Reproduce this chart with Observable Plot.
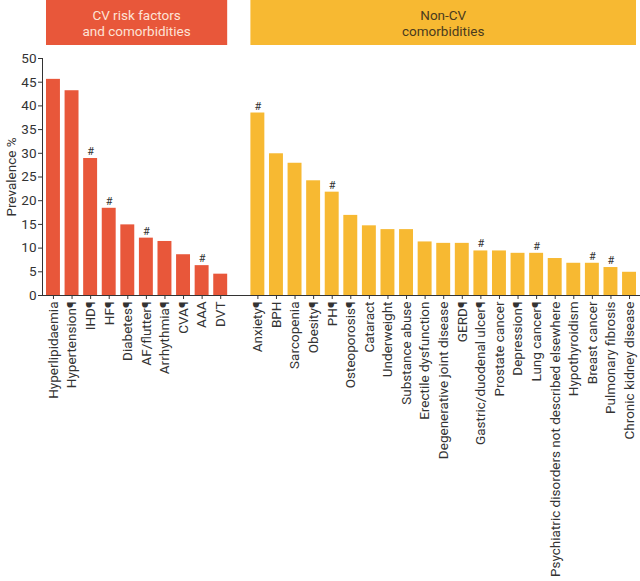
<!DOCTYPE html>
<html>
<head>
<meta charset="utf-8">
<script src="https://cdn.jsdelivr.net/npm/d3@7"></script>
<script src="https://cdn.jsdelivr.net/npm/@observablehq/plot@0.6"></script>
<style>
  html, body { margin: 0; padding: 0; background: #fff; }
  #chart { width: 640px; height: 581px; }
</style>
</head>
<body>
<div id="chart"></div>
<script>
const cvCategories = ["Hyperlipidaemia", "Hypertension¶", "IHD¶", "HF¶", "Diabetes¶", "AF/flutter¶", "Arrhythmia¶", "CVA¶", "AAA", "DVT"];
const cvValues = [45.6, 43.2, 28.9, 18.4, 14.9, 12.1, 11.4, 8.6, 6.3, 4.5];
const cvFlags = [false, false, true, true, false, true, false, false, true, false];

const nonCvCategories = ["Anxiety¶", "BPH", "Sarcopenia", "Obesity¶", "PH¶", "Osteoporosis¶", "Cataract", "Underweight", "Substance abuse", "Erectile dysfunction", "Degenerative joint disease", "GERD¶", "Gastric/duodenal ulcer¶", "Prostate cancer", "Depression¶", "Lung cancer¶", "Psychiatric disorders not described elsewhere", "Hypothyroidism", "Breast cancer", "Pulmonary fibrosis", "Chronic kidney disease"];
const nonCvValues = [38.5, 29.9, 27.9, 24.2, 21.8, 16.9, 14.7, 13.9, 13.9, 11.3, 11.0, 11.0, 9.4, 9.4, 8.9, 8.9, 7.8, 6.8, 6.8, 5.9, 4.9];
const nonCvFlags = [true, false, false, false, true, false, false, false, false, false, false, false, true, false, false, true, false, false, true, true, false];

const groupNames = ["CV", "Non-CV"];
const groupTitles = [["CV risk factors", "and comorbidities"], ["Non-CV", "comorbidities"]];
const groupColors = ["#E8573A", "#F7B932"];
const groupTextColors = ["#FDE3D6", "#4A3B1E"];
const yTicks = [0, 5, 10, 15, 20, 25, 30, 35, 40, 45, 50];
const spacer = " ";

const data = [
  ...cvCategories.map((c, i) => ({cat: c, value: cvValues[i], flag: cvFlags[i], group: groupNames[0]})),
  ...nonCvCategories.map((c, i) => ({cat: c, value: nonCvValues[i], flag: nonCvFlags[i], group: groupNames[1]}))
];
const domain = [...cvCategories, spacer, ...nonCvCategories];

const plot = Plot.plot({
  width: 640,
  height: 581,
  marginTop: 58,
  marginBottom: 286,
  marginLeft: 42,
  marginRight: 0,
  style: {fontFamily: "Roboto, 'Noto Sans', sans-serif", fontSize: "13px", color: "#333", background: "#fff"},
  x: {domain, paddingInner: 0.25, paddingOuter: 0.215, round: false, label: null},
  y: {domain: [0, 50], label: "Prevalence %"},
  color: {domain: groupNames, range: groupColors},
  marks: [
    Plot.barY(data, {x: "cat", y: "value", fill: "group"}),
    Plot.text(data.filter(d => d.flag), {x: "cat", y: "value", text: () => "#", dy: -7, fontSize: 11, fill: "#333"}),
    Plot.axisX({ticks: [...cvCategories, ...nonCvCategories], tickRotate: -90, tickSize: 4, tickPadding: 2, label: null, fontSize: 13.5}),
    Plot.axisY({ticks: yTicks, tickSize: 4, tickPadding: 2, label: "Prevalence %", labelAnchor: "center", labelArrow: "none", labelOffset: 36, fontSize: 13.5}),
    Plot.frame({anchor: "left", stroke: "#333"}),
    Plot.ruleY([0], {stroke: "#333"})
  ]
});

// Group header boxes, positioned from Plot's own x scale
const xs = plot.scale("x");
const bw = xs.bandwidth;
const groups = [cvCategories, nonCvCategories];
const svg = d3.select(plot);
groups.forEach((cats, gi) => {
  const x0 = xs.apply(cats[0]);
  const x1 = xs.apply(cats[cats.length - 1]) + bw;
  const g = svg.append("g");
  g.append("rect").attr("x", x0).attr("y", 0).attr("width", x1 - x0).attr("height", 45).attr("fill", groupColors[gi]);
  groupTitles[gi].forEach((line, li) => {
    g.append("text")
      .attr("x", (x0 + x1) / 2)
      .attr("y", 15 + li * 16)
      .attr("dy", "0.35em")
      .attr("text-anchor", "middle")
      .attr("fill", groupTextColors[gi])
      .attr("font-size", 13.5)
      .text(line);
  });
});

document.getElementById("chart").appendChild(plot);
</script>
</body>
</html>
